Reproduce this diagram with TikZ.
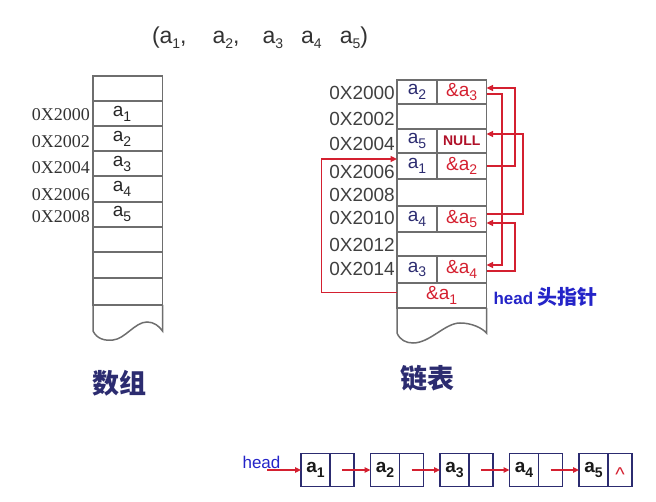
\documentclass[tikz,border=0pt]{standalone}
\usepackage{fontspec}
\setmainfont{Liberation Sans}
\newfontfamily\addrfont{Liberation Serif}
\newfontfamily\cjk{Noto Sans CJK SC}
\usepackage{xcolor}
\usetikzlibrary{arrows.meta, positioning}

\definecolor{linkred}{HTML}{D42030}
\definecolor{nullred}{HTML}{B01028}
\definecolor{navy}{HTML}{2C2C70}
\definecolor{headblue}{HTML}{2424C8}
\definecolor{boxgray}{HTML}{6E6E6E}

\newcommand{\fsz}[1]{\fontsize{#1}{#1}\selectfont}
\newcommand{\ix}[1]{\raisebox{-0.45ex}{\fsz{14}#1}}

\begin{document}
\begin{tikzpicture}[x=1pt, y=-1pt,
  cell/.style  = {rectangle, draw=boxgray, line width=1.5pt, inner sep=0pt,
                  outer sep=0pt, minimum width=69.5pt},
  rcell/.style = {rectangle, draw=boxgray, line width=1.5pt, inner sep=0pt,
                  outer sep=0pt},
  dat/.style   = {rcell, minimum width=40pt, text=navy, font=\fsz{19}},
  ptr/.style   = {rcell, minimum width=49.5pt, text=linkred, font=\fsz{19}},
  row/.style   = {rcell, minimum width=89.5pt, text=linkred, font=\fsz{19}},
  val/.style   = {font=\fsz{19}, text=black!85, inner sep=0pt},
  laddr/.style = {anchor=east, font=\addrfont\fsz{18}, text=black!80, inner sep=0pt},
  raddr/.style = {anchor=east, font=\fsz{19}, text=black!75, inner sep=0pt},
  side/.style  = {draw=boxgray, line width=1.5pt},
  rel/.style   = {-{Triangle[length=6.5pt,width=6pt]}, linkred, line width=1.5pt},
  lnode/.style = {rectangle, draw=navy, line width=1.5pt, inner sep=0pt,
                  outer sep=0pt, minimum height=33pt},
  ldat/.style  = {lnode, minimum width=29pt, font=\bfseries\fsz{19}, text=black!90},
  lptr/.style  = {lnode, minimum width=24pt},
  larr/.style  = {-{Triangle[length=6pt,width=5.5pt]}, linkred, line width=1.6pt},
  cjklbl/.style = {font=\cjk\bfseries\fsz{27}, text=navy},
]
  \useasboundingbox (0,0) rectangle (656,502);

  % sequence
  \node[font=\fsz{23}, text=black!80] (seq) at (260,38)
    {(a\ix1,\hspace{26pt}a\ix2,\hspace{23pt}a\ix3\hspace{18pt}a\ix4\hspace{18pt}a\ix5)};

  % array
  \node[cell, minimum height=25pt] (l0) at (127.75,88.5)  {};
  \node[cell, minimum height=25pt] (l1) at (127.75,113.5) {};
  \node[cell, minimum height=25pt] (l2) at (127.75,138.5) {};
  \node[cell, minimum height=25pt] (l3) at (127.75,163.5) {};
  \node[cell, minimum height=26pt] (l4) at (127.75,189)   {};
  \node[cell, minimum height=25pt] (l5) at (127.75,214.5) {};
  \node[cell, minimum height=25pt] (l6) at (127.75,239.5) {};
  \node[cell, minimum height=26pt] (l7) at (127.75,265)   {};
  \node[cell, minimum height=27pt] (l8) at (127.75,291.5) {};
  \draw[side] (l8.south west) -- (93,331)
    .. controls (97,339) and (105,341) .. (113,340)
    .. controls (125,339) and (135,322) .. (147,322)
    .. controls (154,322) and (159,326) .. (162.5,331) -- (l8.south east);

  \node[val] (v1) at (122,114) {a\ix1};
  \node[val] (v2) at (122,139) {a\ix2};
  \node[val] (v3) at (122,164) {a\ix3};
  \node[val] (v4) at (122,189) {a\ix4};
  \node[val] (v5) at (122,214) {a\ix5};

  \node[laddr] (la0) at (90,115)   {0X2000};
  \node[laddr] (la1) at (90,141.5) {0X2002};
  \node[laddr] (la2) at (90,168)   {0X2004};
  \node[laddr] (la3) at (90,195)   {0X2006};
  \node[laddr] (la4) at (90,216.5) {0X2008};

  \node[cjklbl] (arr) at (119.5,383) {数组};

  % linked storage
  \node[dat, minimum height=24pt] (d0) at (417,92)      {a\ix2};
  \node[ptr, minimum height=24pt] (p0) at (461.75,92)   {\&a\ix3};
  \node[row, minimum height=25pt] (h1) at (441.75,116.5) {};
  \node[dat, minimum height=24pt] (d2) at (417,141)     {a\ix5};
  \node[ptr, minimum height=24pt, text=nullred, font=\bfseries\fsz{14}]
       (p2) at (461.75,141) {NULL};
  \node[dat, minimum height=26pt] (d3) at (417,166)     {a\ix1};
  \node[ptr, minimum height=26pt] (p3) at (461.75,166)  {\&a\ix2};
  \node[row, minimum height=27pt] (h4) at (441.75,192.5) {};
  \node[dat, minimum height=26pt] (d5) at (417,219)     {a\ix4};
  \node[ptr, minimum height=26pt] (p5) at (461.75,219)  {\&a\ix5};
  \node[row, minimum height=24pt] (h6) at (441.75,244)  {};
  \node[dat, minimum height=27pt] (d7) at (417,269.5)   {a\ix3};
  \node[ptr, minimum height=27pt] (p7) at (461.75,269.5) {\&a\ix4};
  \node[row, minimum height=25pt] (h8) at (441.75,295.5) {\&a\ix1};
  \draw[side] (h8.south west) -- (397,333)
    .. controls (400,340) and (406,343) .. (413,343)
    .. controls (430,343) and (445,323) .. (460,323)
    .. controls (472,323) and (482,328) .. (486.5,333) -- (h8.south east);

  \node[raddr] (ra0) at (395,93)  {0X2000};
  \node[raddr] (ra1) at (395,119) {0X2002};
  \node[raddr] (ra2) at (395,144) {0X2004};
  \node[raddr] (ra3) at (395,172) {0X2006};
  \node[raddr] (ra4) at (395,195) {0X2008};
  \node[raddr] (ra5) at (395,218) {0X2010};
  \node[raddr] (ra6) at (395,245) {0X2012};
  \node[raddr] (ra7) at (395,269) {0X2014};

  \node[anchor=west, font=\bfseries\fsz{17}, text=headblue] (hp) at (490,297)
    {head {\cjk\fsz{20}头指针}};

  \draw[rel] ([yshift=2.8pt]h8.west) -- ++(-75.3,0) |- ([yshift=7pt]d3.west);
  \draw[rel] (p3.east) -- ++(28.5,0) |- ([yshift=4pt]p0.east);
  \draw[rel] ([yshift=-2pt]p0.east) -- ++(15.5,0) |- ([yshift=4.5pt]p7.east);
  \draw[rel] ([yshift=-1.5pt]p7.east) -- ++(28.5,0) |- ([yshift=-4pt]p5.east);
  \draw[rel] ([yshift=5pt]p5.east) -- ++(36.5,0) |- ([yshift=7pt]p2.east);

  \node[cjklbl] (lst) at (427.5,378) {链表};

  % linked list
  \node[font=\fsz{17}, text=headblue, inner sep=0pt] (hd) at (261.5,462) {head};
  \coordinate (hs) at (267,470);
  \node[ldat] (n1) at (315.5,470) {a\ix1};
  \node[lptr, right=0pt of n1] (q1) {};
  \node[ldat, right=16.5pt of q1] (n2) {a\ix2};
  \node[lptr, right=0pt of n2] (q2) {};
  \node[ldat, right=16.5pt of q2] (n3) {a\ix3};
  \node[lptr, right=0pt of n3] (q3) {};
  \node[ldat, right=16.5pt of q3] (n4) {a\ix4};
  \node[lptr, right=0pt of n4] (q4) {};
  \node[ldat, right=16.5pt of q4] (n5) {a\ix5};
  \node[lptr, right=0pt of n5, text=linkred, font=\fsz{20},
        text height=0pt, text depth=0pt] (q5)
    {\raisebox{-11pt}[0pt][0pt]{\textasciicircum}};

  \draw[larr] (hs) -- (n1.west);
  \draw[larr] (q1.center) -- (n2.west);
  \draw[larr] (q2.center) -- (n3.west);
  \draw[larr] (q3.center) -- (n4.west);
  \draw[larr] (q4.center) -- (n5.west);
\end{tikzpicture}
\end{document}
